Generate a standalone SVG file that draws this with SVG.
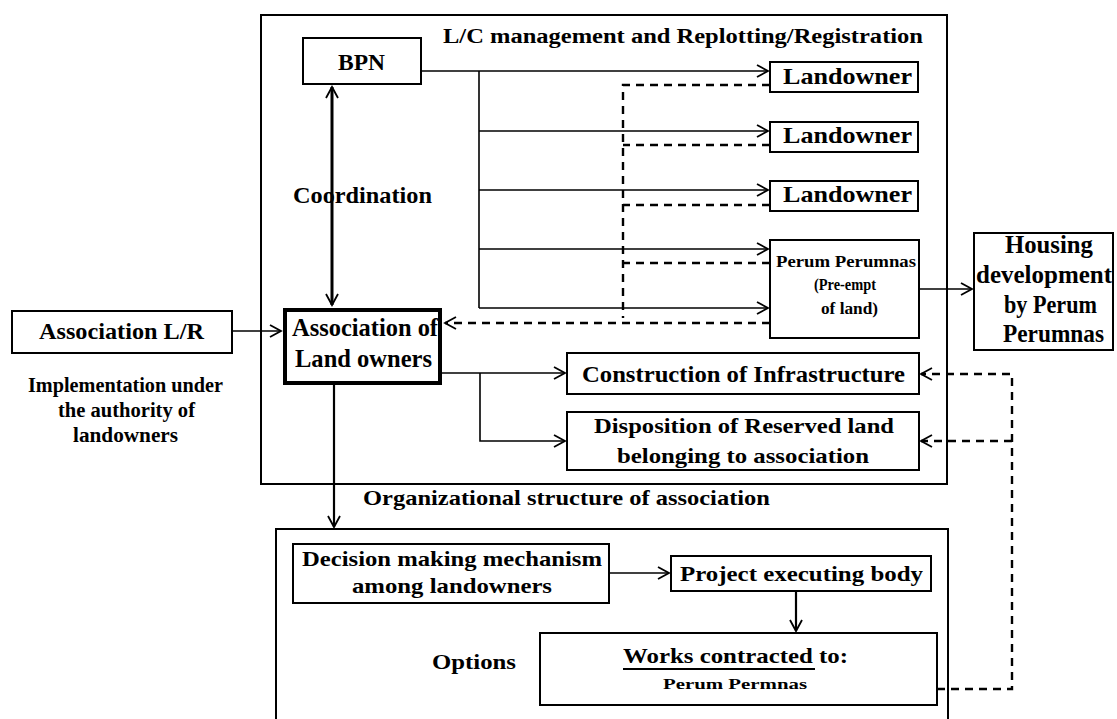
<svg xmlns="http://www.w3.org/2000/svg" width="1117" height="719" viewBox="0 0 1117 719">
<defs>
<style>
text{font-family:"Liberation Serif","Times New Roman",serif;font-weight:bold;fill:#000}
.box{fill:#fff;stroke:#000;stroke-width:2}
.frame{fill:none;stroke:#000;stroke-width:2}
.ln{fill:none;stroke:#000;stroke-width:1.6}
.dash{fill:none;stroke:#000;stroke-width:2.4;stroke-dasharray:8 6}
</style>
<marker id="ah" markerUnits="userSpaceOnUse" markerWidth="14" markerHeight="14" refX="12" refY="7" orient="auto-start-reverse">
<path d="M1,1 L12,7 L1,13" fill="none" stroke="#000" stroke-width="1.8"/>
</marker>
</defs>
<rect width="1117" height="719" fill="#fff"/>

<g id="frame-lc">
<rect class="frame" x="261" y="15" width="686" height="469"/>
<text x="443" y="43" font-size="20" textLength="480" lengthAdjust="spacingAndGlyphs">L/C management and Replotting/Registration</text>
</g>
<g id="frame-org">
<path class="frame" d="M276,719 V529 H948 V719"/>
<text x="363" y="505" font-size="21" textLength="407" lengthAdjust="spacingAndGlyphs">Organizational structure of association</text>
</g>

<g id="connectors">
<path class="ln" d="M421,71 H768" marker-end="url(#ah)"/>
<path class="ln" d="M479,71 V308"/>
<path class="ln" d="M479,131 H768" marker-end="url(#ah)"/>
<path class="ln" d="M479,190 H768" marker-end="url(#ah)"/>
<path class="ln" d="M479,249 H768" marker-end="url(#ah)"/>
<path class="ln" d="M479,308 H768" marker-end="url(#ah)"/>
<path class="dash" d="M770,85 H623 V318"/>
<path class="dash" d="M770,145 H623"/>
<path class="dash" d="M770,205 H623"/>
<path class="dash" d="M770,263 H623"/>
<path class="dash" d="M770,323 H445" marker-end="url(#ah)"/>
<path fill="none" stroke="#000" stroke-width="3" d="M332,87 V305" marker-start="url(#ah)" marker-end="url(#ah)"/>
<path class="ln" d="M232,331 H281" marker-end="url(#ah)"/>
<path class="ln" d="M442,373 H565" marker-end="url(#ah)"/>
<path class="ln" d="M480,373 V441 H565" marker-end="url(#ah)"/>
<path class="ln" d="M919,289 H972" marker-end="url(#ah)"/>
<path fill="none" stroke="#000" stroke-width="2.2" d="M334,385 V527" marker-end="url(#ah)"/>
<path class="ln" d="M609,573 H669" marker-end="url(#ah)"/>
<path fill="none" stroke="#000" stroke-width="2.2" d="M796,591 V631" marker-end="url(#ah)"/>
<path class="dash" d="M937,689 H1012 V374 H921" marker-end="url(#ah)"/>
<path class="dash" d="M1012,441 H921" marker-end="url(#ah)"/>
</g>

<g id="bpn">
<rect class="box" x="303" y="38" width="118" height="46"/>
<text x="338" y="70" font-size="23" textLength="47" lengthAdjust="spacingAndGlyphs">BPN</text>
</g>
<g id="coordination-label">
<text x="293" y="203" font-size="24" textLength="139" lengthAdjust="spacingAndGlyphs">Coordination</text>
</g>
<g id="landowner-1">
<rect class="box" x="770" y="62" width="148" height="30"/>
<text x="783" y="84" font-size="23" textLength="129" lengthAdjust="spacingAndGlyphs">Landowner</text>
</g>
<g id="landowner-2">
<rect class="box" x="770" y="122" width="148" height="30"/>
<text x="783" y="143" font-size="23" textLength="129" lengthAdjust="spacingAndGlyphs">Landowner</text>
</g>
<g id="landowner-3">
<rect class="box" x="770" y="181" width="148" height="30"/>
<text x="783" y="202" font-size="23" textLength="129" lengthAdjust="spacingAndGlyphs">Landowner</text>
</g>
<g id="perum-perumnas">
<rect class="box" x="770" y="240" width="149" height="98"/>
<text x="776" y="267" font-size="16" textLength="140" lengthAdjust="spacingAndGlyphs">Perum Perumnas</text>
<text x="814" y="290" font-size="16" textLength="62" lengthAdjust="spacingAndGlyphs">(Pre-empt</text>
<text x="821" y="314" font-size="16" textLength="57" lengthAdjust="spacingAndGlyphs">of land)</text>
</g>
<g id="housing">
<rect class="box" x="974" y="233" width="139" height="117"/>
<text x="1005" y="253" font-size="26" textLength="88" lengthAdjust="spacingAndGlyphs">Housing</text>
<text x="976" y="283" font-size="26" textLength="136" lengthAdjust="spacingAndGlyphs">development</text>
<text x="1004" y="313" font-size="26" textLength="93" lengthAdjust="spacingAndGlyphs">by Perum</text>
<text x="1003" y="342" font-size="26" textLength="101" lengthAdjust="spacingAndGlyphs">Perumnas</text>
</g>
<g id="association-lr">
<rect class="box" x="12" y="311" width="220" height="42"/>
<text x="39" y="339" font-size="24" textLength="165" lengthAdjust="spacingAndGlyphs">Association L/R</text>
</g>
<g id="implementation-label">
<text x="28" y="392" font-size="20" textLength="195" lengthAdjust="spacingAndGlyphs">Implementation under</text>
<text x="58" y="417" font-size="20" textLength="137" lengthAdjust="spacingAndGlyphs">the authority of</text>
<text x="73" y="442" font-size="20" textLength="105" lengthAdjust="spacingAndGlyphs">landowners</text>
</g>
<g id="association-landowners">
<rect x="285" y="310" width="155" height="73" fill="#fff" stroke="#000" stroke-width="4"/>
<text x="292" y="336" font-size="25" textLength="146" lengthAdjust="spacingAndGlyphs">Association of</text>
<text x="295" y="367" font-size="25" textLength="137" lengthAdjust="spacingAndGlyphs">Land owners</text>
</g>
<g id="construction">
<rect class="box" x="567" y="353" width="352" height="41"/>
<text x="582" y="382" font-size="23" textLength="323" lengthAdjust="spacingAndGlyphs">Construction of Infrastructure</text>
</g>
<g id="disposition">
<rect class="box" x="567" y="412" width="352" height="58"/>
<text x="594" y="433" font-size="22" textLength="300" lengthAdjust="spacingAndGlyphs">Disposition of Reserved land</text>
<text x="617" y="463" font-size="22" textLength="252" lengthAdjust="spacingAndGlyphs">belonging to association</text>
</g>
<g id="decision">
<rect class="box" x="293" y="544" width="316" height="59"/>
<text x="302" y="566" font-size="21" textLength="300" lengthAdjust="spacingAndGlyphs">Decision making mechanism</text>
<text x="352" y="593" font-size="21" textLength="200" lengthAdjust="spacingAndGlyphs">among landowners</text>
</g>
<g id="project">
<rect class="box" x="671" y="556" width="260" height="35"/>
<text x="680" y="581" font-size="21" textLength="243" lengthAdjust="spacingAndGlyphs">Project executing body</text>
</g>
<g id="options-label">
<text x="432" y="669" font-size="22" textLength="84" lengthAdjust="spacingAndGlyphs">Options</text>
</g>
<g id="works">
<rect class="box" x="540" y="633" width="397" height="72"/>
<text x="623" y="663" font-size="22" textLength="225" lengthAdjust="spacingAndGlyphs">Works contracted to:</text>
<line x1="623" y1="669" x2="815" y2="669" stroke="#000" stroke-width="2"/>
<text x="663" y="689" font-size="15" textLength="144" lengthAdjust="spacingAndGlyphs">Perum Permnas</text>
</g>
</svg>
